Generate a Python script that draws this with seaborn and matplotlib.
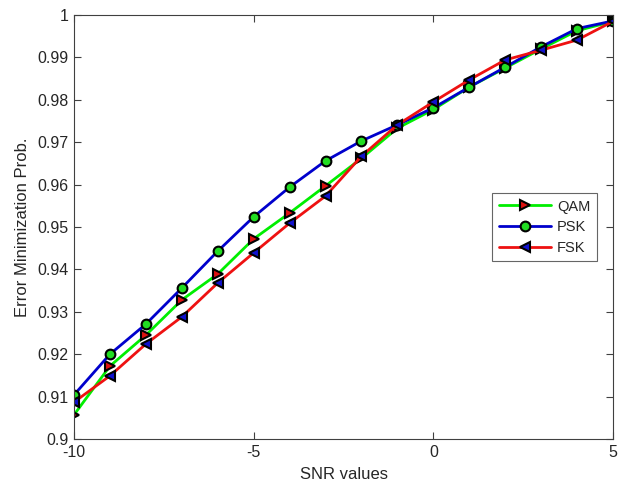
import matplotlib
matplotlib.use("Agg")
import matplotlib.pyplot as plt
import seaborn as sns
import pandas as pd

snr = [-10, -9, -8, -7, -6, -5, -4, -3, -2, -1, 0, 1, 2, 3, 4, 5]
qam = [0.9057, 0.9172, 0.9245, 0.9328, 0.9389, 0.9472, 0.9533, 0.9597, 0.9662,
       0.9733, 0.9777, 0.9830, 0.9875, 0.9920, 0.9963, 0.9985]
psk = [0.9104, 0.9200, 0.9271, 0.9356, 0.9443, 0.9524, 0.9594, 0.9656, 0.9703,
       0.9741, 0.9781, 0.9830, 0.9877, 0.9925, 0.9968, 0.9986]
fsk = [0.9087, 0.9149, 0.9224, 0.9288, 0.9368, 0.9439, 0.9509, 0.9573, 0.9667,
       0.9741, 0.9795, 0.9847, 0.9894, 0.9917, 0.9941, 0.9985]
series_names = ["QAM", "PSK", "FSK"]
x_ticks = [-10, -5, 0, 5]
y_ticks = [0.9, 0.91, 0.92, 0.93, 0.94, 0.95, 0.96, 0.97, 0.98, 0.99, 1.0]
y_tick_labels = ["0.9", "0.91", "0.92", "0.93", "0.94", "0.95", "0.96", "0.97", "0.98", "0.99", "1"]

sns.set_style("ticks")
plt.rcParams["font.family"] = ["Liberation Sans", "DejaVu Sans"]
plt.rcParams["xtick.direction"] = "in"
plt.rcParams["ytick.direction"] = "in"

fig = plt.figure(figsize=(6.27, 4.90), dpi=100)
ax = fig.add_axes([74 / 627, 1 - 439 / 490, (613 - 74) / 627, (439 - 15) / 490])

styles = [
    dict(color="#00ee00", marker=">", markerfacecolor="#dd1111"),
    dict(color="#0000cc", marker="o", markerfacecolor="#22dd22"),
    dict(color="#ee1111", marker="<", markerfacecolor="#1111cc"),
]
for name, vals, st in zip(series_names, [qam, psk, fsk], styles):
    df = pd.DataFrame({"SNR": snr, "P": vals})
    sns.lineplot(data=df, x="SNR", y="P", ax=ax, label=name, linewidth=2,
                 markersize=7, markeredgecolor="black", markeredgewidth=1.5, **st)

ax.set_xlim(-10, 5)
ax.set_ylim(0.9, 1.0)
ax.set_xticks(x_ticks)
ax.set_xticklabels([str(t) for t in x_ticks])
ax.set_yticks(y_ticks)
ax.set_yticklabels(y_tick_labels)
ax.tick_params(axis="both", which="both", top=True, right=True, length=5,
               width=0.8, colors="#404040", labelsize=11.5, labelcolor="#262626", pad=4)
for s in ax.spines.values():
    s.set_visible(True)
    s.set_color("#404040")
    s.set_linewidth(0.8)

ax.set_xlabel("SNR values", fontsize=12, color="#262626", labelpad=5)
ax.set_ylabel("Error Minimization Prob.", fontsize=12, color="#262626", labelpad=5)

leg = ax.legend(loc="upper left", bbox_to_anchor=((492 - 74) / (613 - 74), 1 - (193 - 15) / (439 - 15)),
                fontsize=10.5, frameon=True, fancybox=False, edgecolor="#404040",
                handlelength=3.6, borderaxespad=0, borderpad=0.45, labelspacing=0.45,
                handletextpad=0.4)
leg.get_frame().set_linewidth(0.8)

fig.savefig("out.png", dpi=100)
